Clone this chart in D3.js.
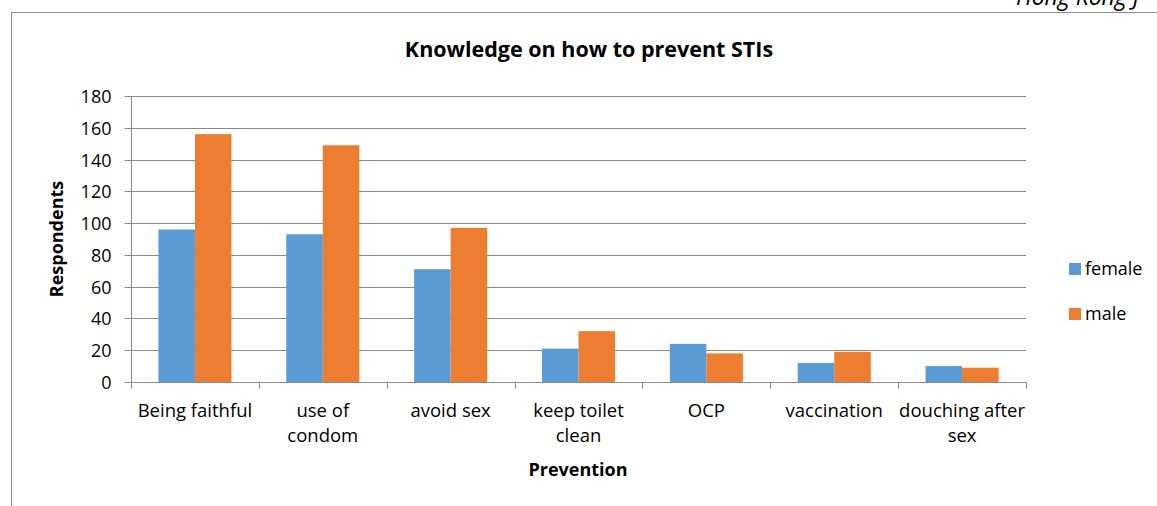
<!DOCTYPE html>
<html><head><meta charset="utf-8">
<script src="https://cdn.jsdelivr.net/npm/d3@7/dist/d3.min.js"></script>
<style>body{margin:0;background:#fff;} svg{display:block;font-family:"Open Sans",sans-serif;}</style>
</head><body>
<svg id="c" width="1157" height="506"></svg>
<script>
const categories = ["Being faithful","use of condom","avoid sex","keep toilet clean","OCP","vaccination","douching after sex"];
const categoryLines = [["Being faithful"],["use of","condom"],["avoid sex"],["keep toilet","clean"],["OCP"],["vaccination"],["douching after","sex"]];
const seriesNames = ["female","male"];
const female = [96,93,71,21,24,12,10];
const male = [156,149,97,32,18,19,9];
const yTicks = [0,20,40,60,80,100,120,140,160,180];
const colors = ["#5B9BD5","#ED7D31"];

const svg = d3.select("#c");
const M = {l:131, r:1026, t:96, b:382};

// outer chart frame
svg.append("rect").attr("x",11.5).attr("y",12.5).attr("width",1300).attr("height",600)
  .attr("fill","none").attr("stroke","#8c8c8c").attr("stroke-width",1);

// header text cut off at top
svg.append("text").attr("x",1016).attr("y",5).attr("font-size",23).attr("font-style","italic")
  .attr("fill","#000").text("Hong Kong J");

const x0 = d3.scaleBand().domain(categories).range([M.l,M.r]).padding(0);
const x1 = d3.scaleBand().domain(seriesNames).range([0,x0.bandwidth()]).paddingInner(0).paddingOuter(0.75);
const y = d3.scaleLinear().domain([0,180]).range([M.b,M.t]);

// gridlines
svg.append("g").selectAll("line").data(yTicks.filter(d=>d>0)).join("line")
  .attr("x1",M.l).attr("x2",M.r).attr("y1",d=>Math.round(y(d))+0.5).attr("y2",d=>Math.round(y(d))+0.5)
  .attr("stroke","#898989").attr("stroke-width",1);

// bars
const data = categories.map((c,i)=>({c, vals:[female[i],male[i]]}));
const g = svg.append("g").selectAll("g").data(data).join("g").attr("transform",d=>`translate(${x0(d.c)},0)`);
g.selectAll("rect").data(d=>d.vals.map((v,j)=>({s:seriesNames[j],v,j}))).join("rect")
  .attr("x",d=>x1(d.s)).attr("width",x1.bandwidth())
  .attr("y",d=>y(d.v)).attr("height",d=>y(0)-y(d.v))
  .attr("fill",d=>colors[d.j]);

// y axis
const yAxis = d3.axisLeft(y).tickValues(yTicks).tickSize(7).tickPadding(13);
const ya = svg.append("g").attr("transform",`translate(${M.l+0.5},0)`).call(yAxis);
ya.select(".domain").attr("stroke","#898989").attr("d",`M0,${M.t}V${M.b}`);
ya.selectAll(".tick line").attr("stroke","#898989");
ya.selectAll(".tick").attr("transform",d=>`translate(0,${Math.round(y(d))+0.5})`);
ya.selectAll("text").attr("font-size",18).attr("font-family","Open Sans").attr("fill","#000").attr("dy","0.35em");

// x axis
const xa = svg.append("g").attr("transform",`translate(0,${M.b+0.5})`);
xa.append("line").attr("x1",M.l).attr("x2",M.r+0.5).attr("stroke","#898989");
const tickPos = categories.map(c=>x0(c)).concat([M.r]);
xa.selectAll("line.t").data(tickPos).join("line").attr("class","t")
  .attr("x1",d=>Math.round(d)+0.5).attr("x2",d=>Math.round(d)+0.5).attr("y1",0).attr("y2",6).attr("stroke","#898989");
const lab = xa.selectAll("text.l").data(categories).join("text").attr("class","l")
  .attr("x",d=>x0(d)+x0.bandwidth()/2).attr("y",34).attr("text-anchor","middle")
  .attr("font-size",18.5).attr("fill","#000");
lab.each(function(d,i){
  const t=d3.select(this);
  categoryLines[i].forEach((ln,k)=>t.append("tspan").attr("x",x0(d)+x0.bandwidth()/2).attr("dy",k?25:0).text(ln));
});

// title
svg.append("text").attr("x",589).attr("y",57).attr("text-anchor","middle")
  .attr("font-size",21.5).attr("font-weight","bold").text("Knowledge on how to prevent STIs");
// axis titles
svg.append("text").attr("transform",`translate(63,239) rotate(-90)`).attr("text-anchor","middle")
  .attr("font-size",18).attr("font-weight","bold").text("Respondents");
svg.append("text").attr("x",578).attr("y",476).attr("text-anchor","middle")
  .attr("font-size",18).attr("font-weight","bold").text("Prevention");

// legend
const lg = svg.append("g").selectAll("g").data(seriesNames).join("g")
  .attr("transform",(d,i)=>`translate(1069,${263+i*45})`);
lg.append("rect").attr("width",12).attr("height",12).attr("fill",(d,i)=>colors[i]);
lg.append("text").attr("x",16).attr("y",6).attr("dy","0.35em").attr("font-size",18).text(d=>d);
</script>
</body></html>
